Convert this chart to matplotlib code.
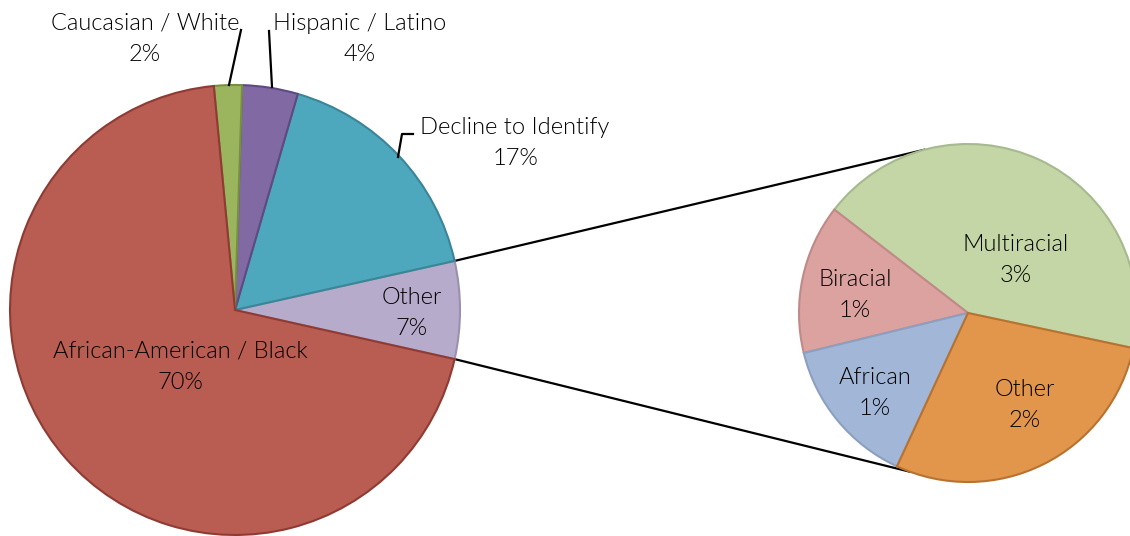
import matplotlib.pyplot as plt
import numpy as np

# main pie, counterclockwise starting from "Other"
main_names = ["Other", "Decline to Identify", "Hispanic / Latino",
              "Caucasian / White", "African-American / Black"]
main_values = [7, 17, 4, 2, 70]
main_colors = ["#B7ABCB", "#4DA8BD", "#8169A3", "#9BB55E", "#B95C52"]
main_edges = ["#9A91AE", "#3A8597", "#5E4A80", "#76903F", "#8E3B33"]

# breakdown of "Other"
sub_names = ["Multiracial", "Biracial", "African", "Other"]
sub_values = [3, 1, 1, 2]
sub_colors = ["#C4D6A6", "#DBA2A0", "#A2B7D8", "#E2964C"]
sub_edges = ["#A7B98E", "#C08A88", "#8C9FBE", "#B8722F"]

W, H = 1130, 536
fig = plt.figure(figsize=(W / 100, H / 100), dpi=100)
ax = fig.add_axes([0, 0, 1, 1])

c1, r1 = (235, H - 310), 225
c2, r2 = (968, H - 313), 169

w1, _ = ax.pie(main_values, colors=main_colors, startangle=-12.6,
               counterclock=True, center=c1, radius=r1,
               wedgeprops=dict(linewidth=1.5))
for w, e in zip(w1, main_edges):
    w.set_edgecolor(e)

w2, _ = ax.pie(sub_values, colors=sub_colors, startangle=-12,
               counterclock=True, center=c2, radius=r2,
               wedgeprops=dict(linewidth=1.5))
for w, e in zip(w2, sub_edges):
    w.set_edgecolor(e)

# connector lines from the "Other" slice to the second pie
other = w1[0]
for th1, th2 in [(other.theta2, 105), (other.theta1, 250)]:
    a1, a2 = np.radians(th1), np.radians(th2)
    ax.plot([c1[0] + r1 * np.cos(a1), c2[0] + r2 * np.cos(a2)],
            [c1[1] + r1 * np.sin(a1), c2[1] + r2 * np.sin(a2)],
            color="black", lw=1.6, zorder=0)

font = dict(family="Lato", fontweight=300, fontsize=17, color="black",
            ha="center", va="center", linespacing=1.6)

main_pos = [(412, 313), (515, 143), (360, 39), (145, 39), (180, 367)]
for n, v, (x, y) in zip(main_names, main_values, main_pos):
    ax.text(x, H - y, f"{n}\n{v}%", **font)

sub_pos = [(1016, 260), (855, 295), (875, 393), (1025, 405)]
for n, v, (x, y) in zip(sub_names, sub_values, sub_pos):
    ax.text(x, H - y, f"{n}\n{v}%", **font)

# leader lines for outside labels
ax.plot([241, 229], [H - 30, H - 85], color="black", lw=1.6)
ax.plot([269, 272], [H - 31, H - 87], color="black", lw=1.6)
ax.plot([413, 402, 398], [H - 134, H - 134, H - 157], color="black", lw=1.6)

ax.set_xlim(0, W)
ax.set_ylim(0, H)
ax.set_aspect("equal")
ax.axis("off")

fig.savefig("out.png", dpi=100)
